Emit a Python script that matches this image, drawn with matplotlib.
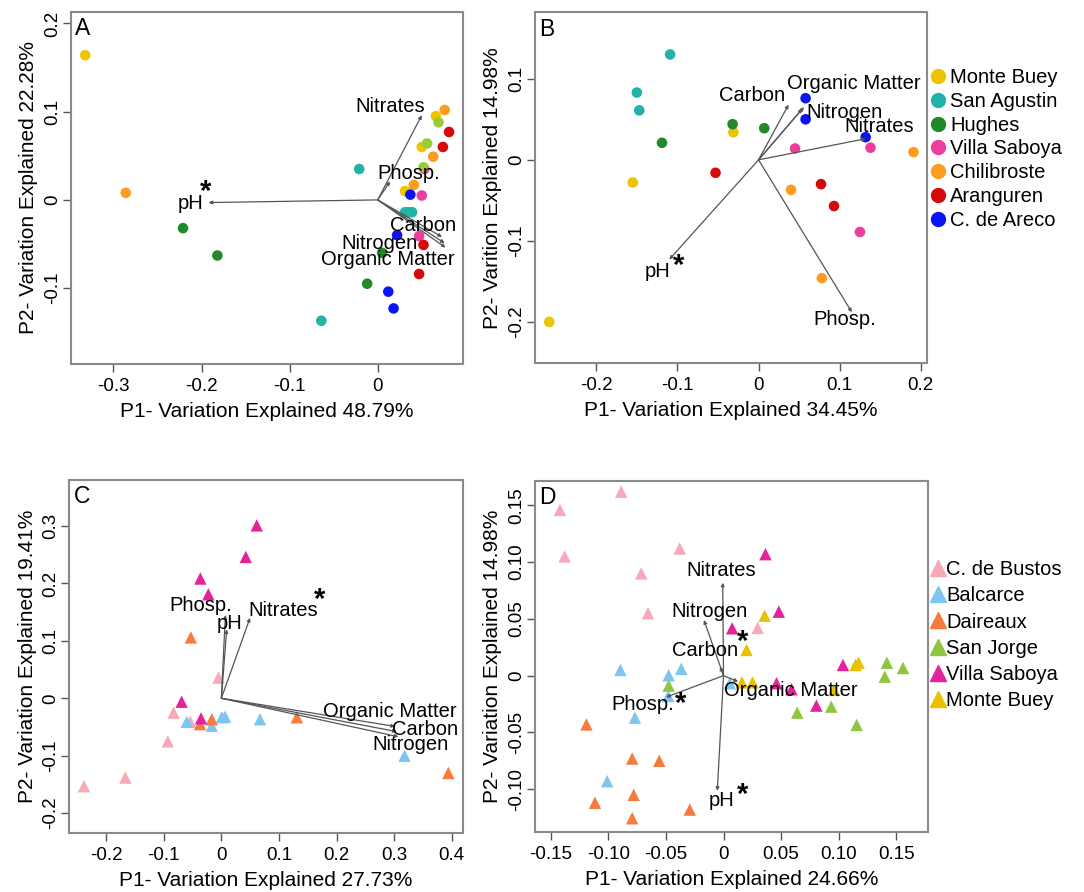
import matplotlib
matplotlib.use("Agg")
import matplotlib.pyplot as plt
from matplotlib.lines import Line2D

plt.rcParams['font.family'] = ['Liberation Sans', 'DejaVu Sans']

# ---------------- data ----------------
# Panel A (circles)
A_groups = ['Monte Buey', 'San Agustin', 'Hughes', 'Villa Saboya', 'Chilibroste',
            'Aranguren', 'C. de Areco', 'San Jorge']
A_x = [[-0.332, 0.031, 0.050, 0.066],
       [-0.021, -0.064, 0.031, 0.035, 0.039],
       [-0.221, -0.182, -0.012, 0.005],
       [0.053, 0.050, 0.047],
       [-0.286, 0.076, 0.063, 0.041],
       [0.081, 0.074, 0.052, 0.047],
       [0.037, 0.022, 0.012, 0.018],
       [0.069, 0.056, 0.052]]
A_y = [[0.164, 0.010, 0.060, 0.095],
       [0.035, -0.137, -0.014, -0.014, -0.014],
       [-0.032, -0.063, -0.095, -0.060],
       [0.035, 0.005, -0.041],
       [0.008, 0.102, 0.049, 0.017],
       [0.077, 0.060, -0.051, -0.084],
       [0.006, -0.040, -0.104, -0.123],
       [0.088, 0.064, 0.037]]
A_vars = ['pH', 'Nitrates', 'Phosp.', 'Carbon', 'Nitrogen', 'Organic Matter']
A_vx = [-0.192, 0.050, 0.014, 0.073, 0.076, 0.077]
A_vy = [-0.003, 0.096, 0.021, -0.042, -0.049, -0.054]

# Panel B (circles)
B_groups = ['Monte Buey', 'San Agustin', 'Hughes', 'Villa Saboya', 'Chilibroste',
            'Aranguren', 'C. de Areco']
B_x = [[-0.258, -0.155, -0.031],
       [-0.109, -0.150, -0.147],
       [-0.119, -0.032, 0.007],
       [0.045, 0.138, 0.125],
       [0.191, 0.040, 0.078],
       [-0.053, 0.077, 0.093],
       [0.058, 0.058, 0.132]]
B_y = [[-0.200, -0.028, 0.034],
       [0.130, 0.083, 0.061],
       [0.021, 0.044, 0.039],
       [0.014, 0.015, -0.089],
       [0.0095, -0.037, -0.146],
       [-0.016, -0.030, -0.057],
       [0.076, 0.050, 0.028]]
B_vars = ['pH', 'Phosp.', 'Nitrates', 'Carbon', 'Nitrogen', 'Organic Matter']
B_vx = [-0.110, 0.115, 0.132, 0.037, 0.054, 0.056]
B_vy = [-0.123, -0.188, 0.026, 0.068, 0.063, 0.065]

# Panel C (triangles)
C_groups = ['C. de Bustos', 'Balcarce', 'Daireaux', 'Villa Saboya']
C_x = [[-0.2385, -0.1667, -0.093, -0.083, -0.054, -0.005],
       [-0.060, -0.0167, 0.0007, 0.0064, 0.067, 0.318],
       [-0.053, -0.037, -0.0167, 0.131, 0.394],
       [0.0614, 0.0423, -0.0365, -0.0226, -0.069, -0.0353]]
C_y = [[-0.153, -0.138, -0.075, -0.025, -0.041, 0.036],
       [-0.041, -0.048, -0.033, -0.032, -0.0365, -0.100],
       [0.106, -0.045, -0.0365, -0.033, -0.130],
       [0.301, 0.246, 0.2085, 0.181, -0.006, -0.035]]
C_vars = ['Phosp.', 'pH', 'Nitrates', 'Organic Matter', 'Carbon', 'Nitrogen']
C_vx = [0.007, 0.0093, 0.0498, 0.3016, 0.3045, 0.3074]
C_vy = [0.145, 0.120, 0.140, -0.049, -0.058, -0.067]

# Panel D (triangles)
D_groups = ['C. de Bustos', 'Balcarce', 'Daireaux', 'San Jorge', 'Villa Saboya', 'Monte Buey']
D_x = [[-0.0888, -0.142, -0.138, -0.038, -0.0714, -0.0656, 0.0296],
       [-0.0895, -0.0476, -0.0367, -0.048, -0.0769, -0.101, 0.0055],
       [-0.119, -0.0793, -0.0558, -0.078, -0.1116, -0.0793, -0.0293],
       [-0.0476, 0.1418, 0.1558, 0.140, 0.0935, 0.064, 0.1156],
       [0.0364, 0.048, 0.0075, 0.1037, 0.046, 0.059, 0.0806],
       [0.0357, 0.020, 0.1146, 0.1173, 0.016, 0.0252, 0.0959]]
D_y = [[0.162, 0.146, 0.105, 0.112, 0.090, 0.055, 0.042],
       [0.005, 0.0003, 0.006, -0.018, -0.037, -0.093, -0.0067],
       [-0.043, -0.073, -0.075, -0.105, -0.112, -0.1256, -0.118],
       [-0.0088, 0.0114, 0.0067, -0.0009, -0.0273, -0.0326, -0.0434],
       [0.107, 0.0563, 0.0417, 0.0094, -0.0067, -0.012, -0.0264],
       [0.0528, 0.0226, 0.0094, 0.0114, -0.0059, -0.0059, -0.0126]]
D_vars = ['Nitrates', 'Nitrogen', 'Carbon', 'Organic Matter', 'Phosp.', 'pH']
D_vx = [-0.0007, -0.017, -0.003, 0.0127, -0.0500, -0.0054]
D_vy = [0.0819, 0.049, 0.008, -0.0053, -0.019, -0.1015]

# ---------------- styles ----------------
colors = {'Monte Buey': '#EDC400', 'San Agustin': '#22B2A8', 'Hughes': '#22892A',
          'Villa Saboya': '#EC3E9E', 'Chilibroste': '#FF9B1E', 'Aranguren': '#D40A0A',
          'C. de Areco': '#0A14F5', 'San Jorge': '#9CCB3A'}
tri_colors = {'C. de Bustos': '#F7A9B8', 'Balcarce': '#7CC6F0', 'Daireaux': '#F67B3C',
              'San Jorge': '#8DC63F', 'Villa Saboya': '#E4239B', 'Monte Buey': '#EBC000'}

W, H = 1084, 892
fig = plt.figure(figsize=(W / 100, H / 100), dpi=100)


def make_ax(l, r, t, b):
    return fig.add_axes([l / W, 1 - b / H, (r - l) / W, (b - t) / H])


def style_ax(ax, xlim, ylim, xt, xtl, yt, ytl, xlabel, ylabel, letter):
    ax.set_xlim(*xlim)
    ax.set_ylim(*ylim)
    ax.set_xticks(xt)
    ax.set_xticklabels(xtl, fontsize=13.5)
    ax.set_yticks(yt)
    ax.set_yticklabels(ytl, fontsize=13.5, rotation=90, va='center')
    ax.tick_params(length=6, width=1, color='#555555')
    ax.tick_params(axis='x', pad=4)
    ax.tick_params(axis='y', pad=1)
    for s in ax.spines.values():
        s.set_color('#8a8a8a')
        s.set_linewidth(1.5)
    ax.set_xlabel(xlabel, fontsize=15, labelpad=5)
    ax.set_ylabel(ylabel, fontsize=15, labelpad=4)
    ax.text(0.012, 0.985, letter, transform=ax.transAxes, fontsize=16.5,
            ha='left', va='top')


def draw_arrows(ax, vx, vy):
    for x, y in zip(vx, vy):
        ax.annotate('', xy=(x, y), xytext=(0, 0),
                    arrowprops=dict(arrowstyle='-|>', mutation_scale=5, lw=0.9,
                                    color='#555555', shrinkA=0, shrinkB=0), zorder=3)


def draw_labels(ax, labels):
    for txt, x, y in labels:
        fs = 21 if txt == '*' else 14.5
        ax.text(x, y, txt, fontsize=fs, ha='center', va='center', zorder=4,
                fontweight='bold' if txt == '*' else 'normal')


# ---------------- Panel A ----------------
axA = make_ax(70.7, 463, 12, 364)
for g, xs, ys in zip(A_groups, A_x, A_y):
    axA.scatter(xs, ys, s=58, color=colors[g], edgecolors='none', zorder=2)
draw_arrows(axA, A_vx, A_vy)
draw_labels(axA, [('Nitrates', 0.014, 0.106), ('Phosp.', 0.035, 0.030),
                  ('pH', -0.212, -0.004), ('*', -0.195, 0.009),
                  ('Carbon', 0.052, -0.029), ('Nitrogen', 0.002, -0.049),
                  ('Organic Matter', 0.011, -0.067)])
style_ax(axA, (-0.3485, 0.0968), (-0.186, 0.213),
         [-0.3, -0.2, -0.1, 0], ['-0.3', '-0.2', '-0.1', '0'],
         [-0.1, 0, 0.1, 0.2], ['-0.1', '0', '0.1', '0.2'],
         'P1- Variation Explained 48.79%', 'P2- Variation Explained 22.28%', 'A')

# ---------------- Panel B ----------------
axB = make_ax(534.6, 927.3, 12.3, 363.3)
for g, xs, ys in zip(B_groups, B_x, B_y):
    axB.scatter(xs, ys, s=58, color=colors[g], edgecolors='none', zorder=2)
draw_arrows(axB, B_vx, B_vy)
draw_labels(axB, [('Carbon', -0.008, 0.079), ('Organic Matter', 0.117, 0.094),
                  ('Nitrogen', 0.106, 0.059), ('Nitrates', 0.1486, 0.041),
                  ('pH', -0.124, -0.138), ('*', -0.098, -0.131),
                  ('Phosp.', 0.1066, -0.197)])
style_ax(axB, (-0.276, 0.208), (-0.251, 0.182),
         [-0.2, -0.1, 0, 0.1, 0.2], ['-0.2', '-0.1', '0', '0.1', '0.2'],
         [-0.2, -0.1, 0, 0.1], ['-0.2', '-0.1', '0', '0.1'],
         'P1- Variation Explained 34.45%', 'P2- Varition Explained 14.98%', 'B')
hB = [Line2D([], [], marker='o', ls='none', ms=10, color=colors[g]) for g in B_groups]
fig.legend(hB, B_groups, loc='upper left', bbox_to_anchor=(930 / W, 1 - 68 / H),
           frameon=False, fontsize=14.5, handlelength=0.8, handletextpad=0.2,
           labelspacing=0.24, borderpad=0, borderaxespad=0)

# ---------------- Panel C ----------------
axC = make_ax(69.3, 462.7, 480, 832.7)
for g, xs, ys in zip(C_groups, C_x, C_y):
    axC.scatter(xs, ys, s=80, marker='^', color=tri_colors[g], edgecolors='none', zorder=2)
draw_arrows(axC, C_vx, C_vy)
draw_labels(axC, [('Phosp.', -0.036, 0.161), ('pH', 0.015, 0.130),
                  ('Nitrates', 0.1065, 0.153), ('*', 0.170, 0.172),
                  ('Organic Matter', 0.293, -0.023), ('Carbon', 0.354, -0.055),
                  ('Nitrogen', 0.329, -0.081)])
style_ax(axC, (-0.264, 0.419), (-0.234, 0.380),
         [-0.2, -0.1, 0, 0.1, 0.2, 0.3, 0.4],
         ['-0.2', '-0.1', '0', '0.1', '0.2', '0.3', '0.4'],
         [-0.2, -0.1, 0, 0.1, 0.2, 0.3], ['-0.2', '-0.1', '0', '0.1', '0.2', '0.3'],
         'P1- Variation Explained 27.73%', 'P2- Variation Explained 19.41%', 'C')

# ---------------- Panel D ----------------
axD = make_ax(534.6, 928.1, 480.7, 832.3)
for g, xs, ys in zip(D_groups, D_x, D_y):
    axD.scatter(xs, ys, s=80, marker='^', color=tri_colors[g], edgecolors='none', zorder=2)
draw_arrows(axD, D_vx, D_vy)
draw_labels(axD, [('Nitrates', -0.0017, 0.093), ('Nitrogen', -0.0119, 0.0563),
                  ('Carbon', -0.0163, 0.0217), ('*', 0.0167, 0.030),
                  ('Organic Matter', 0.0585, -0.0132), ('Phosp.', -0.070, -0.025),
                  ('*', -0.0374, -0.025), ('pH', -0.0017, -0.110),
                  ('*', 0.0167, -0.105)])
style_ax(axD, (-0.164, 0.1776), (-0.138, 0.1717),
         [-0.15, -0.10, -0.05, 0, 0.05, 0.10, 0.15],
         ['-0.15', '-0.10', '-0.05', '0', '0.05', '0.10', '0.15'],
         [-0.10, -0.05, 0, 0.05, 0.10, 0.15],
         ['-0.10', '-0.05', '0', '0.05', '0.10', '0.15'],
         'P1- Variation Explained 24.66%', 'P2- Variation Explained 14.98%', 'D')
hD = [Line2D([], [], marker='^', ls='none', ms=12, color=tri_colors[g]) for g in D_groups]
fig.legend(hD, D_groups, loc='upper left', bbox_to_anchor=(930 / W, 1 - 560 / H),
           frameon=False, fontsize=14.5, handlelength=0.8, handletextpad=0.0,
           labelspacing=0.36, borderpad=0, borderaxespad=0)

fig.savefig('out.png', dpi=100)
